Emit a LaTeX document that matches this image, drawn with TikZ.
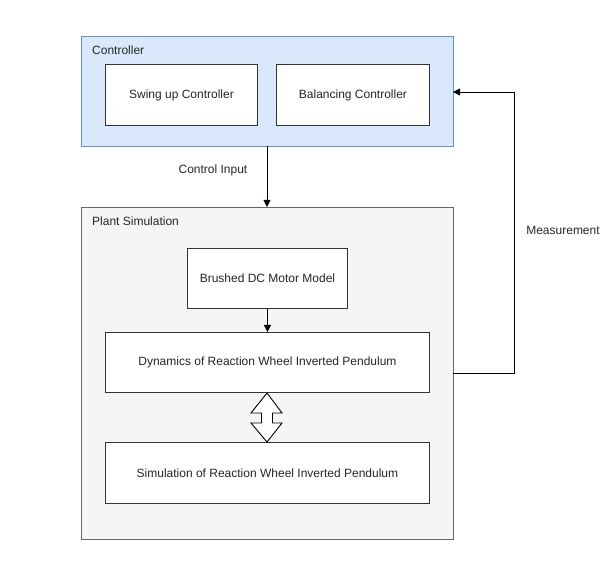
\documentclass[tikz,border=0pt]{standalone}
\usepackage{fontspec}
\setmainfont{Liberation Sans}
\usetikzlibrary{arrows.meta}
\definecolor{ctrlfill}{HTML}{DAE8FC}
\definecolor{ctrldraw}{HTML}{6C8EBF}
\definecolor{plantfill}{HTML}{F5F5F5}
\definecolor{plantdraw}{HTML}{666666}
\begin{document}
\begin{tikzpicture}[x=1pt,y=-1pt,
  every node/.style={font=\fontsize{12}{14}\selectfont, inner sep=0pt, text=black!85},
  group/.style={draw, line width=0.9pt, anchor=north west},
  blockbox/.style={draw=black!80, line width=0.9pt, fill=white, anchor=north west},
  conn/.style={draw=black, line width=0.9pt, -{Triangle[length=7pt,width=7pt]}},
  lbl/.style={anchor=west}]
\useasboundingbox (0,0) rectangle (611,561);
\node[group, fill=ctrlfill, draw=ctrldraw, minimum width=372pt, minimum height=110pt] (ctrl) at (81,36) {};
\node[lbl] (ctrllbl) at (92,50) {Controller};
\node[blockbox, minimum width=152pt, minimum height=61pt] (swing) at (105,64) {};
\node (swingt) at (swing.center) {Swing up Controller};
\node[blockbox, minimum width=153pt, minimum height=61pt] (bal) at (276,64) {};
\node (balt) at (bal.center) {Balancing Controller};
\node[group, fill=plantfill, draw=plantdraw, minimum width=372pt, minimum height=332pt] (plant) at (81,207) {};
\node[lbl] (plantlbl) at (92,221) {Plant Simulation};
\node[blockbox, minimum width=160pt, minimum height=60pt] (motor) at (187,248) {};
\node (motort) at (motor.center) {Brushed DC Motor Model};
\node[blockbox, minimum width=324pt, minimum height=60pt] (dyn) at (105,332) {};
\node (dynt) at (dyn.center) {Dynamics of Reaction Wheel Inverted Pendulum};
\node[blockbox, minimum width=324pt, minimum height=61pt] (sim) at (105,442) {};
\node (simt) at (sim.center) {Simulation of Reaction Wheel Inverted Pendulum};
\coordinate (ctrlout) at (267,146);
\coordinate (plantin) at (267,207);
\draw[conn] (ctrlout) -- (plantin);
\node (cilbl) at (213,170) {Control Input};
\draw[conn] (motor.south) -- (dyn.north);
\coordinate (mstart) at (453,373);
\coordinate (mend) at (453,92);
\draw[conn] (mstart) -- (514,373) -- (514,92) -- (mend);
\node (mlbl) at (563,230) {Measurement};
\draw[line width=0.9pt, fill=white] (267,393) -- (282,413) -- (272.5,413) -- (272.5,423) -- (282,423) -- (267,442) -- (251,423) -- (261.5,423) -- (261.5,413) -- (251,413) -- cycle;
\end{tikzpicture}
\end{document}
